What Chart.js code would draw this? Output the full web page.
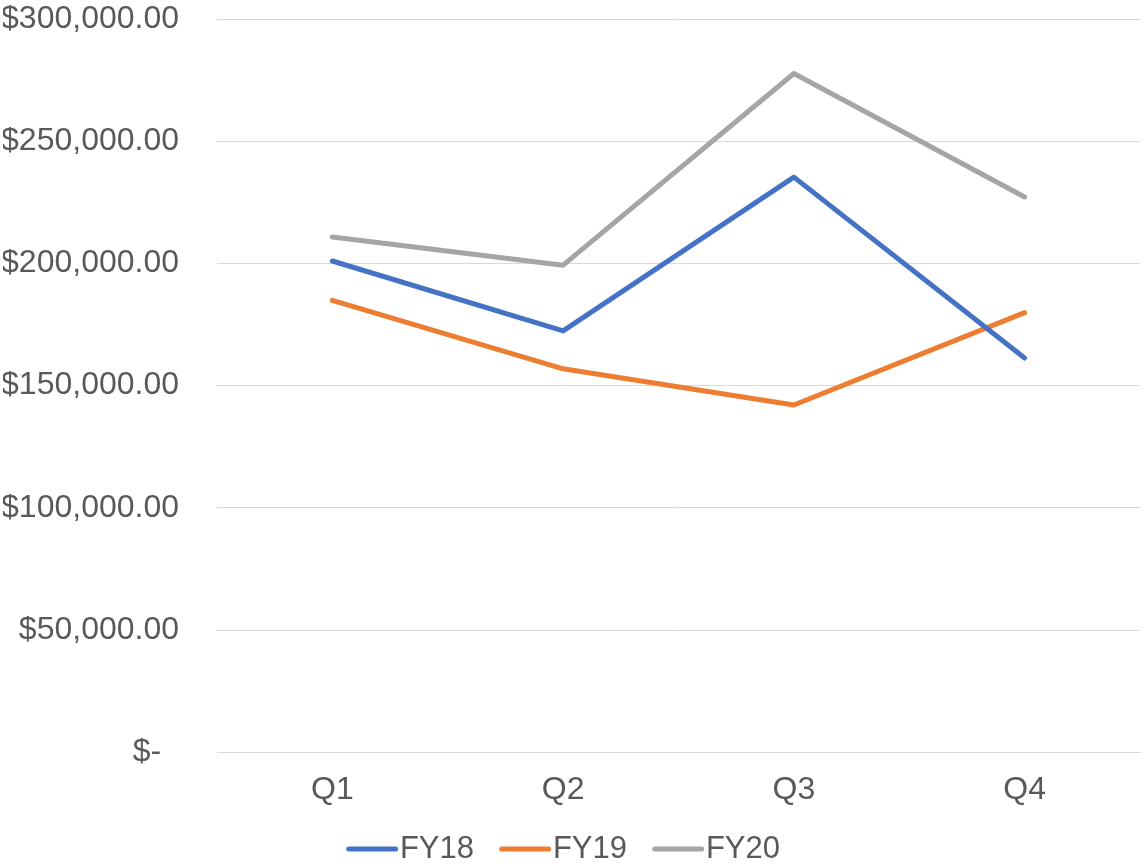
<!DOCTYPE html>
<html>
<head>
<meta charset="utf-8">
<script src="https://cdn.jsdelivr.net/npm/chart.js@4/dist/chart.umd.min.js"></script>
<style>
  html, body { margin: 0; padding: 0; background: #ffffff; }
  #wrap { width: 1144px; height: 865px; position: relative; }
</style>
</head>
<body>
<div id="wrap"><canvas id="chart" width="1144" height="865"></canvas></div>
<script>
// Quarterly revenue by fiscal year
const quarters = ['Q1', 'Q2', 'Q3', 'Q4'];
const fy18 = [201000, 172400, 235300, 161300];
const fy19 = [184900, 156900, 142100, 179900];
const fy20 = [210800, 199300, 277700, 227200];
const seriesNames = ['FY18', 'FY19', 'FY20'];
const seriesColors = ['#4472C4', '#ED7D31', '#A5A5A5'];

const FONT = '"Liberation Sans", Arial, sans-serif';
const TEXT = '#595959';
const GRID = '#D9D9D9';

// Legend marker geometry: a 52px rounded stroke ending just before the label text
const LEGEND_PAD = 26;
const LEGEND_BOX = 37.4;
const LEGEND_CENTER_Y = 849;
function lineSwatch(color) {
  const c = document.createElement('canvas');
  const w = Math.round(LEGEND_BOX + 28);
  c.width = w; c.height = 6;
  const g = c.getContext('2d');
  g.strokeStyle = color;
  g.lineWidth = 5;
  g.lineCap = 'round';
  g.beginPath();
  g.moveTo(w - 52 + 2.5, 3);
  g.lineTo(w - 2.5, 3);
  g.stroke();
  return c;
}
const swatches = seriesColors.map(lineSwatch);

function money(v) {
  if (v === 0) return '$-  ';
  return '$' + v.toLocaleString('en-US', { minimumFractionDigits: 2, maximumFractionDigits: 2 });
}

// Place the legend row under the category labels
const legendPlace = {
  id: 'legendPlace',
  afterLayout(chart) {
    const lg = chart.legend;
    if (!lg) return;
    const h = lg.height;
    lg.left -= 8;
    lg.right -= 8;
    lg.top = LEGEND_CENTER_Y - 15.5 - LEGEND_PAD;
    lg.bottom = lg.top + h;
  }
};

const series = [fy18, fy19, fy20];

new Chart(document.getElementById('chart'), {
  type: 'line',
  data: {
    labels: quarters,
    datasets: series.map((values, i) => ({
      label: seriesNames[i],
      data: values,
      borderColor: seriesColors[i],
      backgroundColor: seriesColors[i],
      borderWidth: 5,
      borderCapStyle: 'round',
      borderJoinStyle: 'round',
      pointRadius: 0,
      pointHoverRadius: 0,
      tension: 0,
      fill: false
    }))
  },
  plugins: [legendPlace],
  options: {
    responsive: false,
    animation: false,
    layout: { padding: { left: 3, right: 4, top: 0, bottom: -30.7 } },
    scales: {
      x: {
        offset: true,
        grid: { display: false, drawTicks: false },
        border: { display: true, color: GRID, width: 1 },
        ticks: { color: TEXT, font: { family: FONT, size: 32 }, padding: 19 },
        afterFit(scale) {
          scale.paddingLeft = 0;
          scale.paddingRight = 0;
        }
      },
      y: {
        min: 0,
        max: 300000,
        ticks: {
          stepSize: 50000,
          color: TEXT,
          font: { family: FONT, size: 32 },
          padding: 38,
          callback: (v) => money(v)
        },
        grid: { color: GRID, lineWidth: 1, drawTicks: false },
        border: { display: false },
        afterFit(scale) {
          scale.width = 214;
          scale.paddingTop = 19;
          scale.paddingBottom = 0;
        }
      }
    },
    plugins: {
      tooltip: { enabled: false },
      legend: {
        position: 'bottom',
        labels: {
          color: TEXT,
          font: { family: FONT, size: 31 },
          usePointStyle: true,
          pointStyleWidth: LEGEND_BOX,
          boxHeight: 6,
          padding: LEGEND_PAD,
          generateLabels(chart) {
            const items = Chart.defaults.plugins.legend.labels.generateLabels(chart);
            items.forEach((it, i) => { it.pointStyle = swatches[i]; });
            return items;
          }
        }
      }
    }
  }
});
</script>
</body>
</html>
